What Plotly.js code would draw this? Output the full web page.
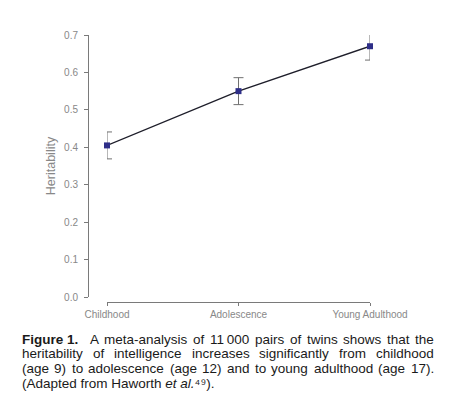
<!DOCTYPE html>
<html>
<head>
<meta charset="utf-8">
<script src="https://cdn.plot.ly/plotly-3.0.1.min.js"></script>
<style>html,body{margin:0;padding:0;background:#fff;}#chart{width:449px;height:394px;}</style>
</head>
<body>
<div id="chart"></div>
<script>
const stages = ["Childhood", "Adolescence", "Young Adulthood"];
const heritability = [0.405, 0.55, 0.67];
const errors = [0.036, 0.036, 0.037];
const yTicks = [0.0, 0.1, 0.2, 0.3, 0.4, 0.5, 0.6, 0.7];
// caption lines: each word as [text, style]; style "b" bold, "" normal
const captionJustified = [
  [["Figure 1.", "b"], ["", ""], ["A", ""], ["meta-analysis", ""], ["of", ""], ["11\u2009000", ""], ["pairs", ""], ["of", ""], ["twins", ""], ["shows", ""], ["that", ""], ["the", ""]],
  [["heritability", ""], ["of", ""], ["intelligence", ""], ["increases", ""], ["significantly", ""], ["from", ""], ["childhood", ""]],
  [["(age", ""], ["9)", ""], ["to", ""], ["adolescence", ""], ["(age", ""], ["12)", ""], ["and", ""], ["to", ""], ["young", ""], ["adulthood", ""], ["(age", ""], ["17).", ""]]
];
const captionLast = "(Adapted from Haworth <i>et al.</i>\u2074\u2079).";

const W = 449, H = 394;
const L = 88, R = 370, T = 35, B = 302;
const pw = R - L, ph = B - T;
const px = x => (x - L) / pw;
const py = y => (B - y) / ph;

const FONT = "Liberation Sans";
const AXFONT = "Liberation Sans";
const CAP_SIZE = 13.5;
const capLeft = 20, capRight = 432, capTop = 339, capStep = 14.8;

const canvas = document.createElement("canvas");
const ctx = canvas.getContext("2d");
function measure(t, style) {
  ctx.font = (style === "b" ? "bold " : "") + CAP_SIZE + "px '" + FONT + "'";
  return ctx.measureText(t).width;
}

const annotations = [];
captionJustified.forEach((words, i) => {
  const widths = words.map(w => w[0] ? measure(w[0], w[1]) : 0);
  const total = widths.reduce((a, b) => a + b, 0);
  const gaps = words.length - 1;
  const gap = (capRight - capLeft - total) / gaps;
  let x = capLeft;
  words.forEach((w, j) => {
    if (w[0]) {
      annotations.push({
        text: w[1] === "b" ? "<b>" + w[0] + "</b>" : w[0],
        xref: "paper", yref: "paper", x: px(x), y: py(capTop + i * capStep),
        xanchor: "left", yanchor: "middle", showarrow: false,
        font: {family: FONT, size: CAP_SIZE, color: "#1a1a1a"}
      });
    }
    x += widths[j] + gap;
  });
});
annotations.push({
  text: captionLast, xref: "paper", yref: "paper",
  x: px(capLeft), y: py(capTop + 3 * capStep),
  xanchor: "left", yanchor: "middle", showarrow: false,
  font: {family: FONT, size: CAP_SIZE, color: "#1a1a1a"}
});

const trace = {
  x: stages,
  y: heritability,
  type: "scatter",
  mode: "lines+markers",
  line: {color: "#1e1e2a", width: 1.4},
  marker: {symbol: "square", size: 6, color: "#2e2e88"},
  error_y: {type: "data", array: errors, visible: true, color: "#707070", thickness: 1, width: 5},
  cliponaxis: false,
  hoverinfo: "skip"
};

const gray = "#888888";
const layout = {
  width: W, height: H,
  margin: {l: L, r: W - R, t: T, b: H - B, pad: 0},
  paper_bgcolor: "#fff", plot_bgcolor: "#fff",
  showlegend: false,
  xaxis: {
    type: "category", range: [0, 2], domain: [px(107), 1],
    anchor: "free", position: 0,
    showline: true, linecolor: "#7a7a7a", linewidth: 1,
    ticks: "outside", ticklen: 3, tickcolor: "#7a7a7a",
    showgrid: false, zeroline: false,
    tickfont: {family: AXFONT, size: 10, color: gray}
  },
  yaxis: {
    range: [0, 0.7], domain: [py(297), 1],
    anchor: "free", position: 0,
    tickvals: yTicks, tickformat: ".1f",
    showline: true, linecolor: "#7a7a7a", linewidth: 1,
    ticks: "outside", ticklen: 4, tickcolor: "#7a7a7a",
    ticklabelstandoff: 4,
    showgrid: false, zeroline: false,
    tickfont: {family: AXFONT, size: 10, color: gray},
    title: {text: "Heritability", standoff: 4, font: {family: AXFONT, size: 12.5, color: gray}}
  },
  annotations: annotations
};

Plotly.newPlot("chart", [trace], layout, {displayModeBar: false, staticPlot: true});
</script>
</body>
</html>
